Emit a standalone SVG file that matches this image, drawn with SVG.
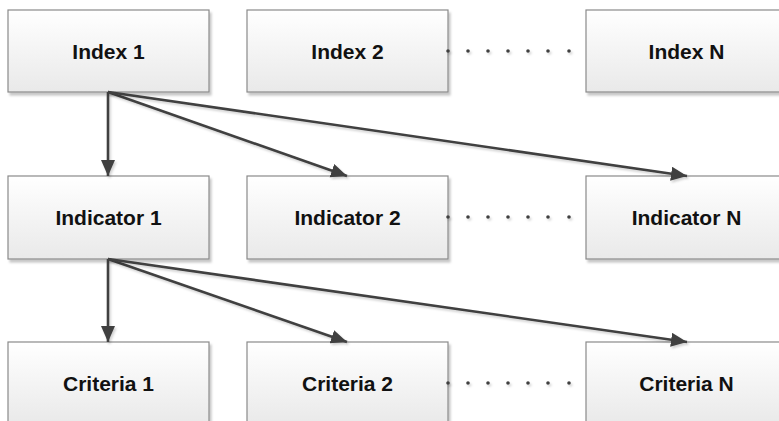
<svg xmlns="http://www.w3.org/2000/svg" width="779" height="421" viewBox="0 0 779 421">
<style>
.box{fill:url(#g);stroke:#8a8a8a;stroke-width:1.2;filter:url(#sh)}
.lbl{font-family:"Liberation Sans",Arial,sans-serif;font-weight:bold;font-size:21px;fill:#111;text-anchor:middle;dominant-baseline:central}
.con{stroke:#404040;stroke-width:2.6;fill:none;marker-end:url(#ah);filter:url(#ls)}
.dot{fill:#404040;filter:url(#ls)}
</style>
<defs>
<linearGradient id="g" x1="0" y1="0" x2="0" y2="1">
<stop offset="0" stop-color="#ffffff"/>
<stop offset="1" stop-color="#e9e9e9"/>
</linearGradient>
<filter id="sh" x="-5%" y="-5%" width="115%" height="125%">
<feDropShadow dx="2" dy="3" stdDeviation="1.2" flood-color="#000" flood-opacity="0.22"/>
</filter>
<filter id="ls" filterUnits="userSpaceOnUse" x="0" y="0" width="779" height="421">
<feDropShadow dx="1.5" dy="2" stdDeviation="0.8" flood-color="#000" flood-opacity="0.18"/>
</filter>
<marker id="ah" markerUnits="userSpaceOnUse" markerWidth="20" markerHeight="16" refX="16" refY="7" orient="auto">
<path d="M0,0 L16,7 L0,14 Z" fill="#404040"/>
</marker>
</defs>
<g id="index1"><rect class="box" x="8" y="10" width="201" height="82"/><text class="lbl" x="108.5" y="51">Index 1</text></g>
<g id="index2"><rect class="box" x="247" y="10" width="201" height="82"/><text class="lbl" x="347.5" y="51">Index 2</text></g>
<g id="indexN"><rect class="box" x="586" y="10" width="201" height="82"/><text class="lbl" x="686.5" y="51">Index N</text></g>
<g id="indicator1"><rect class="box" x="8" y="176" width="201" height="83"/><text class="lbl" x="108.5" y="217">Indicator 1</text></g>
<g id="indicator2"><rect class="box" x="247" y="176" width="201" height="83"/><text class="lbl" x="347.5" y="217">Indicator 2</text></g>
<g id="indicatorN"><rect class="box" x="586" y="176" width="201" height="83"/><text class="lbl" x="686.5" y="217">Indicator N</text></g>
<g id="criteria1"><rect class="box" x="8" y="342" width="201" height="83"/><text class="lbl" x="108.5" y="383">Criteria 1</text></g>
<g id="criteria2"><rect class="box" x="247" y="342" width="201" height="83"/><text class="lbl" x="347.5" y="383">Criteria 2</text></g>
<g id="criteriaN"><rect class="box" x="586" y="342" width="201" height="83"/><text class="lbl" x="686.5" y="383">Criteria N</text></g>
<g id="connectors">
<line class="con" x1="108" y1="92" x2="108" y2="176"/>
<line class="con" x1="108" y1="92" x2="347" y2="176"/>
<line class="con" x1="108" y1="92" x2="687" y2="176"/>
<line class="con" x1="108" y1="259" x2="108" y2="342"/>
<line class="con" x1="108" y1="259" x2="347" y2="342"/>
<line class="con" x1="108" y1="259" x2="687" y2="342"/>
<g id="dots1"><circle class="dot" cx="448" cy="51" r="1.8"/><circle class="dot" cx="468" cy="51" r="1.8"/><circle class="dot" cx="488" cy="51" r="1.8"/><circle class="dot" cx="508" cy="51" r="1.8"/><circle class="dot" cx="528" cy="51" r="1.8"/><circle class="dot" cx="548" cy="51" r="1.8"/><circle class="dot" cx="569" cy="51" r="1.8"/></g>
<g id="dots2"><circle class="dot" cx="448" cy="217" r="1.8"/><circle class="dot" cx="468" cy="217" r="1.8"/><circle class="dot" cx="488" cy="217" r="1.8"/><circle class="dot" cx="508" cy="217" r="1.8"/><circle class="dot" cx="528" cy="217" r="1.8"/><circle class="dot" cx="548" cy="217" r="1.8"/><circle class="dot" cx="569" cy="217" r="1.8"/></g>
<g id="dots3"><circle class="dot" cx="448" cy="383" r="1.8"/><circle class="dot" cx="468" cy="383" r="1.8"/><circle class="dot" cx="488" cy="383" r="1.8"/><circle class="dot" cx="508" cy="383" r="1.8"/><circle class="dot" cx="528" cy="383" r="1.8"/><circle class="dot" cx="548" cy="383" r="1.8"/><circle class="dot" cx="569" cy="383" r="1.8"/></g>
</g>
</svg>
